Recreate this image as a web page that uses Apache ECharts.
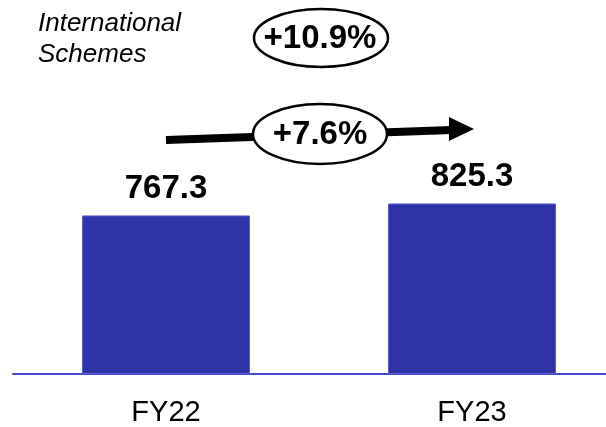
<!DOCTYPE html>
<html>
<head>
<meta charset="utf-8">
<script src="https://cdn.jsdelivr.net/npm/echarts@6/dist/echarts.min.js"></script>
<style>
  html, body { margin: 0; padding: 0; background: #fff; overflow: hidden; }
  #chart { width: 606px; height: 427px; }
</style>
</head>
<body>
<div id="chart"></div>
<script>
// Fiscal years and revenue totals for the international schemes
const categories = ['FY22', 'FY23'];
const values = [767.3, 825.3];
const periodGrowth = '+7.6%';
const totalGrowth = '+10.9%';
const titleLines = ['International', 'Schemes'];

const FONT = '"Liberation Sans", Arial, sans-serif';
const chart = echarts.init(document.getElementById('chart'));

chart.setOption({
  animation: false,
  backgroundColor: '#ffffff',
  // plot area runs past the right edge so the baseline bleeds off the page
  grid: {
    left: 13, width: 612, top: 126, bottom: 53,
    containLabel: false,
    outerBoundsMode: 'none'
  },
  xAxis: {
    type: 'category',
    data: categories,
    axisTick: { show: false },
    axisLine: { show: true, lineStyle: { color: '#4549C8', width: 2 } },
    axisLabel: { color: '#000', fontSize: 29, fontFamily: FONT, margin: 24 }
  },
  yAxis: {
    type: 'value',
    min: 0,
    max: 1200,
    show: false,
    splitLine: { show: false }
  },
  series: [{
    type: 'bar',
    data: values,
    barWidth: 168,
    itemStyle: { color: '#2E33A8', borderColor: '#5A5ED0', borderWidth: 1 },
    label: {
      show: true,
      position: 'top',
      distance: 10,
      color: '#000',
      fontSize: 33,
      fontWeight: 'bold',
      fontFamily: FONT,
      formatter: p => p.value.toFixed(1)
    }
  }],
  graphic: [
    {
      type: 'text',
      left: 38,
      top: 8,
      style: {
        text: titleLines.join('\n'),
        font: 'italic 26px ' + FONT,
        lineHeight: 31,
        fill: '#000'
      }
    },
    // growth arrow across the bars
    {
      type: 'polyline',
      shape: { points: [[166, 140], [452, 130]] },
      style: { stroke: '#000', lineWidth: 8 }
    },
    {
      type: 'polygon',
      shape: { points: [[449, 117], [474, 129], [449, 141]] },
      style: { fill: '#000' }
    },
    {
      type: 'ellipse',
      shape: { cx: 320, cy: 134, rx: 67, ry: 30 },
      style: { fill: '#fff', stroke: '#000', lineWidth: 2.5 }
    },
    {
      type: 'text',
      x: 320, y: 135,
      style: {
        text: periodGrowth,
        font: 'bold 33px ' + FONT,
        fill: '#000',
        align: 'center',
        verticalAlign: 'middle'
      }
    },
    {
      type: 'ellipse',
      shape: { cx: 321, cy: 38, rx: 67, ry: 29 },
      style: { fill: '#fff', stroke: '#000', lineWidth: 2.5 }
    },
    {
      type: 'text',
      x: 320, y: 39,
      style: {
        text: totalGrowth,
        font: 'bold 33px ' + FONT,
        fill: '#000',
        align: 'center',
        verticalAlign: 'middle'
      }
    }
  ]
});
</script>
</body>
</html>
